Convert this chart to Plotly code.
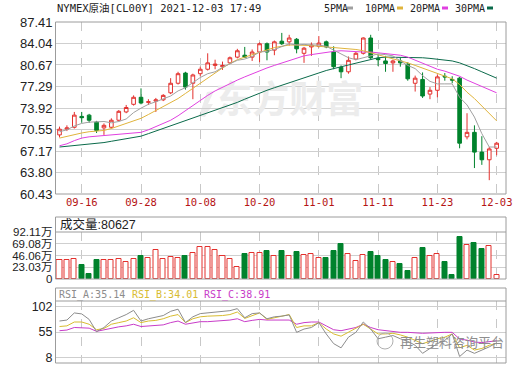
import plotly.graph_objects as go

# ---------------- data ----------------
dates = ["09-13", "09-14", "09-15", "09-16", "09-17", "09-20", "09-21", "09-22", "09-23", "09-24",
         "09-27", "09-28", "09-29", "09-30", "10-01", "10-04", "10-05", "10-06", "10-07", "10-08",
         "10-11", "10-12", "10-13", "10-14", "10-15", "10-18", "10-19", "10-20", "10-21", "10-22",
         "10-25", "10-26", "10-27", "10-28", "10-29", "11-01", "11-02", "11-03", "11-04", "11-05",
         "11-08", "11-09", "11-10", "11-11", "11-12", "11-15", "11-16", "11-17", "11-18", "11-19",
         "11-22", "11-23", "11-24", "11-25", "11-26", "11-29", "11-30", "12-01", "12-02", "12-03"]

open_ = [69.7, 70.6, 70.9, 72.6, 72.8, 71.7, 70.8, 70.9, 72.0, 73.3,
         74.5, 75.6, 74.8, 75.0, 75.2, 76.3, 77.8, 79.4, 77.8, 79.3,
         80.0, 80.6, 80.4, 81.0, 81.9, 82.2, 81.9, 82.7, 84.0, 83.0,
         84.4, 84.3, 84.7, 82.5, 83.5, 83.6, 84.3, 82.7, 80.3, 79.6,
         81.6, 82.5, 84.9, 81.7, 81.3, 81.0, 81.3, 80.8, 77.8, 78.4,
         76.1, 76.7, 78.9, 78.4, 78.6, 69.4, 70.1, 67.0, 65.8, 67.6]
high = [71.0, 71.2, 73.3, 73.3, 73.0, 71.9, 71.5, 72.3, 73.6, 74.4,
        75.9, 77.0, 75.3, 75.5, 76.1, 78.6, 79.6, 79.6, 79.3, 80.4,
        82.5, 81.5, 81.2, 82.0, 83.2, 83.5, 83.1, 84.2, 84.2, 84.5,
        85.7, 85.4, 84.9, 83.5, 84.2, 85.2, 84.5, 83.6, 80.6, 82.0,
        82.7, 85.0, 85.4, 82.3, 82.1, 81.5, 81.8, 81.1, 79.0, 79.5,
        77.2, 79.2, 79.4, 78.9, 78.8, 73.1, 71.2, 69.5, 67.8, 68.6]
low = [69.3, 70.3, 70.7, 71.6, 71.6, 70.0, 69.7, 70.7, 71.8, 73.1,
       74.3, 74.5, 74.4, 73.3, 75.0, 76.1, 77.6, 76.8, 75.3, 78.9,
       79.8, 80.0, 79.9, 80.8, 81.7, 81.8, 81.3, 81.1, 81.4, 82.2,
       83.8, 83.7, 82.5, 81.0, 82.1, 83.4, 83.3, 80.0, 78.6, 79.3,
       81.4, 82.3, 81.6, 80.5, 79.6, 79.6, 80.4, 78.2, 76.5, 75.5,
       75.3, 75.6, 78.2, 77.8, 67.6, 69.0, 64.5, 65.0, 62.6, 66.5]
close = [70.6, 70.8, 72.8, 72.4, 72.0, 70.4, 71.2, 72.0, 73.4, 74.0,
         75.6, 74.7, 74.9, 75.2, 75.9, 77.8, 79.3, 77.2, 79.1, 80.0,
         81.0, 80.8, 80.6, 81.8, 82.9, 81.9, 82.7, 84.0, 82.7, 84.3,
         84.0, 84.9, 83.2, 83.3, 83.8, 84.1, 83.5, 80.4, 79.6, 81.4,
         82.5, 84.9, 81.8, 81.5, 80.9, 81.3, 81.0, 78.5, 78.6, 75.8,
         76.7, 78.8, 78.8, 78.3, 68.4, 70.1, 67.0, 65.8, 67.5, 68.4]

ma5 = [70.2, 70.5, 71.1, 71.5, 71.7, 71.7, 71.8, 71.6, 71.8, 72.2,
       73.2, 73.9, 74.5, 74.9, 75.3, 75.8, 76.6, 77.1, 77.9, 78.7,
       79.3, 79.6, 80.3, 80.8, 81.4, 81.6, 82.0, 82.7, 82.8, 83.1,
       83.5, 84.0, 83.8, 83.9, 83.8, 83.8, 83.6, 83.0, 82.3, 81.8,
       81.5, 81.8, 82.0, 82.4, 82.3, 82.1, 81.3, 80.6, 80.1, 79.0,
       78.1, 77.7, 77.7, 77.7, 75.6, 74.4, 72.5, 69.9, 67.8, 67.8]
ma10 = [69.2, 69.5, 69.8, 70.0, 70.2, 70.3, 70.4, 70.7, 71.1, 71.5,
        71.9, 72.3, 72.9, 73.5, 74.1, 74.7, 75.4, 76.2, 77.0, 77.9,
        78.7, 79.5, 80.2, 80.9, 81.5, 81.9, 82.3, 82.7, 83.1, 83.4,
        83.6, 83.8, 83.8, 83.8, 83.7, 83.6, 83.5, 83.4, 83.4, 83.3,
        83.1, 82.9, 82.6, 82.3, 82.0, 81.7, 81.4, 81.0, 80.6, 80.2,
        79.7, 79.3, 78.9, 78.5, 77.6, 76.4, 75.4, 74.2, 73.0, 71.9]
ma20 = [68.0, 68.3, 68.8, 69.2, 69.4, 69.5, 69.6, 69.7, 69.8, 69.9,
        70.0, 70.1, 70.5, 71.0, 71.5, 72.0, 72.7, 73.5, 74.3, 75.2,
        75.9, 76.6, 77.2, 77.8, 78.3, 78.8, 79.3, 79.8, 80.2, 80.6,
        81.0, 81.4, 81.7, 82.1, 82.3, 82.5, 82.7, 82.8, 82.9, 82.8,
        82.8, 82.7, 82.7, 82.6, 82.5, 82.3, 82.2, 81.9, 81.4, 80.9,
        80.4, 80.0, 79.7, 79.3, 78.9, 78.3, 77.8, 77.3, 76.8, 76.3]
ma30 = [67.8, 67.9, 68.0, 68.1, 68.2, 68.3, 68.5, 68.7, 68.9, 69.1,
        69.3, 69.5, 69.9, 70.3, 70.8, 71.2, 71.6, 72.0, 72.4, 72.8,
        73.1, 73.5, 73.9, 74.3, 74.8, 75.3, 75.8, 76.3, 76.7, 77.1,
        77.5, 77.9, 78.3, 78.7, 79.1, 79.5, 79.8, 80.1, 80.4, 80.7,
        81.0, 81.3, 81.6, 81.8, 81.9, 81.9, 81.9, 81.9, 81.8, 81.8,
        81.7, 81.6, 81.5, 81.3, 81.0, 80.6, 80.1, 79.6, 79.1, 78.6]

# volume in 万 (10k contracts)
volume_wan = [36.6, 37.2, 39.2, 28.1, 10.4, 36.6, 37.9, 37.9, 39.2, 34.0,
              39.2, 45.7, 41.1, 57.5, 38.5, 43.1, 41.1, 45.7, 51.0, 62.7,
              62.7, 57.5, 45.7, 38.5, 23.5, 49.7, 51.0, 51.0, 55.5, 45.7,
              55.5, 45.7, 52.2, 47.7, 49.6, 40.5, 41.8, 54.2, 69.2, 49.0,
              35.9, 47.7, 52.2, 44.4, 37.9, 32.7, 30.0, 15.0, 41.1, 61.4,
              45.7, 49.0, 32.7, 8.5, 82.9, 67.3, 71.2, 59.4, 64.6, 7.8]

rsi_a = [75.2, 77.0, 90.1, 88.3, 78.2, 55.6, 63.3, 75.2, 81.2, 87.1,
         94.9, 75.2, 79.4, 82.4, 85.3, 93.1, 97.0, 72.3, 83.0, 88.9,
         90.1, 91.3, 91.9, 94.3, 98.0, 81.2, 88.9, 90.1, 79.4, 83.0,
         84.2, 86.5, 54.4, 60.4, 63.3, 72.3, 51.4, 33.6, 25.8, 45.5,
         54.4, 73.4, 60.4, 42.5, 45.5, 48.5, 42.5, 37.7, 30.6, 15.7,
         24.7, 33.6, 39.5, 51.4, 9.8, 21.7, 15.7, 21.7, 27.6, 35.14]
rsi_b = [65.1, 66.3, 73.4, 73.4, 69.3, 59.2, 61.5, 69.3, 72.3, 75.2,
         81.2, 72.3, 75.2, 76.4, 79.4, 84.2, 87.1, 72.3, 79.4, 83.0,
         84.2, 84.2, 85.3, 87.1, 91.9, 80.0, 85.3, 90.1, 78.2, 81.2,
         84.2, 87.1, 63.3, 66.3, 66.3, 72.3, 60.4, 51.4, 47.3, 54.4,
         61.5, 69.3, 60.4, 51.4, 51.4, 52.6, 49.6, 45.5, 39.5, 33.6,
         37.7, 42.5, 45.5, 51.4, 25.8, 30.6, 21.7, 24.7, 30.6, 34.01]
rsi_c = [57.4, 58.6, 63.3, 63.3, 62.1, 56.2, 59.2, 62.1, 64.5, 66.3,
         69.3, 65.1, 66.3, 67.5, 68.1, 72.3, 75.2, 69.3, 72.3, 74.0,
         74.0, 75.2, 75.2, 77.0, 79.4, 74.0, 76.4, 78.2, 77.0, 77.0,
         77.0, 77.0, 69.3, 72.3, 73.4, 73.4, 66.3, 59.2, 57.4, 60.4,
         63.3, 69.3, 63.3, 59.2, 57.4, 56.2, 54.4, 54.4, 53.2, 52.6,
         53.2, 54.4, 54.4, 54.4, 42.0, 40.0, 36.5, 35.5, 37.5, 38.91]

price_ticks = [60.43, 63.80, 67.17, 70.55, 73.92, 77.29, 80.67, 84.04, 87.41]
price_tick_text = ["60.43", "63.80", "67.17", "70.55", "73.92", "77.29", "80.67", "84.04", "87.41"]
vol_ticks = [0, 23.03, 46.06, 69.08, 92.11]
vol_tick_text = ["0", "23.03万", "46.06万", "69.08万", "92.11万"]
rsi_ticks = [8, 55, 102]
rsi_tick_text = ["8", "55", "102"]
date_ticks = ["09-16", "09-28", "10-08", "10-20", "11-01", "11-11", "11-23", "12-03"]

title_text = "NYMEX原油[CL00Y] 2021-12-03 17:49"
ma_names = ["5PMA", "10PMA", "20PMA", "30PMA"]
last_volume = "80627"
rsi_names = ["RSI_A", "RSI_B", "RSI_C"]

# ---------------- style ----------------
W, H = 520, 365
RED = "#e3302d"
GREEN = "#00822c"
C_MA5 = "#a0a0a0"
C_MA10 = "#e0b43c"
C_MA20 = "#e040e0"
C_MA30 = "#0a6a4a"
C_RA = "#8c8c8c"
C_RB = "#d8bc30"
C_RC = "#c83cc8"
GRID = "#cfcfcf"
BORDER = "#9c9c9c"
MONO = "DejaVu Sans Mono, Noto Sans CJK SC, monospace"
SANS = "Liberation Sans, Arial, Noto Sans CJK SC, sans-serif"


def px(x):
    return x / W


def py(y):
    return 1 - y / H


XL, XR = 55.5, 506.0
MAIN_T, MAIN_B = 22.0, 194.0
VOL_HDR, VOL_T, VOL_B = 217.0, 232.0, 279.0
RSI_HDR, RSI_T, RSI_B = 288.0, 301.0, 363.0
x_range = [-0.54, 60.26]

fig = go.Figure()

# watermark behind everything in main panel
fig.add_trace(go.Scatter(x=[dates[31]], y=[74.55], mode="text", text=["东方财富"],
                         textfont=dict(family="Noto Sans CJK SC", size=37, color="#ececec", weight="bold"),
                         textposition="middle center", hoverinfo="skip", showlegend=False,
                         xaxis="x", yaxis="y", cliponaxis=False))

ma_colors = [C_MA5, C_MA10, C_MA20, C_MA30]
for arr, col in zip([ma30, ma20, ma10, ma5], [C_MA30, C_MA20, C_MA10, C_MA5]):
    fig.add_trace(go.Scatter(x=dates, y=arr, mode="lines", line=dict(color=col, width=1),
                             hoverinfo="skip", showlegend=False, xaxis="x", yaxis="y"))

fig.add_trace(go.Candlestick(
    x=dates, open=open_, high=high, low=low, close=close,
    increasing=dict(line=dict(color=RED, width=1), fillcolor="#ffffff"),
    decreasing=dict(line=dict(color=GREEN, width=1), fillcolor=GREEN),
    whiskerwidth=0, showlegend=False, xaxis="x", yaxis="y"))

up = [c >= o for o, c in zip(open_, close)]
fig.add_trace(go.Bar(
    x=dates, y=volume_wan, width=0.68,
    marker=dict(color=["#ffffff" if u else GREEN for u in up],
                line=dict(color=[RED if u else GREEN for u in up], width=1)),
    showlegend=False, hoverinfo="skip", xaxis="x2", yaxis="y2"))

for arr, col in zip([rsi_c, rsi_b, rsi_a], [C_RC, C_RB, C_RA]):
    fig.add_trace(go.Scatter(x=dates, y=arr, mode="lines", line=dict(color=col, width=1),
                             hoverinfo="skip", showlegend=False, xaxis="x3", yaxis="y3"))

xcommon = dict(type="category", categoryorder="array", categoryarray=dates,
               range=x_range, domain=[px(XL), px(XR)], automargin=False,
               tickmode="array", tickvals=date_ticks, showgrid=True, gridcolor="#c8c8c8",
               griddash="dash", gridwidth=1, zeroline=False, showline=False, ticks="",
               fixedrange=True)

fig.update_layout(
    width=W, height=H, margin=dict(l=0, r=0, t=0, b=0, pad=0),
    paper_bgcolor="white", plot_bgcolor="white", showlegend=False,
    bargap=0,
    xaxis=dict(**xcommon, anchor="y", rangeslider=dict(visible=False), showticklabels=True,
               ticktext=date_ticks,
               tickfont=dict(family=MONO, size=10.5, color="#b51414")),
    xaxis2=dict(**xcommon, anchor="y2", matches="x", showticklabels=False),
    xaxis3=dict(**xcommon, anchor="y3", matches="x", showticklabels=False),
    yaxis=dict(domain=[py(MAIN_B), py(MAIN_T)], range=[60.43, 87.41], tickmode="array",
               tickvals=price_ticks, ticktext=price_tick_text, showgrid=True, gridcolor=GRID,
               zeroline=False, ticks="", tickfont=dict(family=SANS, size=13, color="#222222"),
               ticklabelstandoff=2, fixedrange=True, automargin=False,
               ticklabeloverflow="allow"),
    yaxis2=dict(domain=[py(VOL_B), py(VOL_T)], range=[0, 92.11], tickmode="array",
                tickvals=vol_ticks, ticktext=vol_tick_text, showgrid=True, gridcolor=GRID,
                zeroline=False, ticks="", tickfont=dict(family=SANS, size=11.5, color="#222222"),
                ticklabelstandoff=2, fixedrange=True, automargin=False,
                ticklabeloverflow="allow"),
    yaxis3=dict(domain=[py(RSI_B), py(RSI_T)], range=[-2.1, 112.1], tickmode="array",
                tickvals=rsi_ticks, ticktext=rsi_tick_text, showgrid=True, gridcolor=GRID,
                zeroline=False, ticks="", tickfont=dict(family=SANS, size=12.5, color="#222222"),
                ticklabelstandoff=2, fixedrange=True, automargin=False,
                ticklabeloverflow="allow"),
)

shapes = []
# panel borders
for (t, b) in [(MAIN_T, MAIN_B), (VOL_HDR, VOL_B), (RSI_HDR, RSI_B)]:
    shapes.append(dict(type="rect", xref="paper", yref="paper", x0=px(XL), x1=px(XR),
                       y0=py(b), y1=py(t), line=dict(color=BORDER, width=1)))
for y in [VOL_T, RSI_T]:
    shapes.append(dict(type="line", xref="paper", yref="paper", x0=px(XL), x1=px(XR),
                       y0=py(y), y1=py(y), line=dict(color=BORDER, width=1)))

# faint logo mark beside the watermark
shapes.append(dict(type="path", xref="paper", yref="paper", layer="below",
                   path=(f"M {px(199)} {py(116)} L {px(207)} {py(92)} L {px(214)} {py(91)} "
                         f"L {px(208)} {py(104)} L {px(213)} {py(104)} L {px(205)} {py(117)} Z"),
                   fillcolor="#ececec", line=dict(width=0)))

# MA legend swatches
annotations = []
legend_x = [322, 363, 408, 453]
swatch_x = [347, 397, 442, 487]
for name, lx, sx, col in zip(ma_names, legend_x, swatch_x, ma_colors):
    annotations.append(dict(x=px(lx), y=py(8), xref="paper", yref="paper", text=name,
                            showarrow=False, xanchor="left", yanchor="middle",
                            font=dict(family=MONO, size=10, color="#222222")))
    shapes.append(dict(type="rect", xref="paper", yref="paper", x0=px(sx), x1=px(sx + 6),
                       y0=py(9.5), y1=py(6.5), fillcolor=col, line=dict(width=0)))

annotations.append(dict(x=px(55), y=py(8), xref="paper", yref="paper", text=title_text,
                        showarrow=False, xanchor="left", yanchor="middle",
                        font=dict(family=MONO, size=10.5, color="#222222")))
annotations.append(dict(x=px(58), y=py(224.5), xref="paper", yref="paper",
                        text="成交量:" + last_volume, showarrow=False, xanchor="left",
                        yanchor="middle", font=dict(family=SANS, size=12.5, color="#222222")))
rsi_cols = [C_RA, C_RB, C_RC]
rsi_last = [rsi_a[-1], rsi_b[-1], rsi_c[-1]]
for k, (nm, col, val, lx) in enumerate(zip(rsi_names, rsi_cols, rsi_last, [57, 130, 202])):
    annotations.append(dict(x=px(lx), y=py(295), xref="paper", yref="paper",
                            text=f"{nm}:{val:.2f}", showarrow=False, xanchor="left",
                            yanchor="middle", font=dict(family=MONO, size=10, color=col)))

# WeChat style watermark
annotations.append(dict(x=px(398), y=py(341), xref="paper", yref="paper",
                        text="再生塑料咨询平台", showarrow=False, xanchor="left", yanchor="middle",
                        font=dict(family="Noto Sans CJK SC", size=13, color="#8e8e8e")))
shapes.append(dict(type="circle", xref="paper", yref="paper", x0=px(377), x1=px(393),
                   y0=py(349), y1=py(333), line=dict(color="#b0b0b0", width=1)))

fig.update_layout(shapes=shapes, annotations=annotations)
fig.write_html("out.html", config={"displayModeBar": False},
               post_script="document.body.style.margin='0';document.body.style.padding='0';"
                           "document.documentElement.style.overflow='hidden';")
